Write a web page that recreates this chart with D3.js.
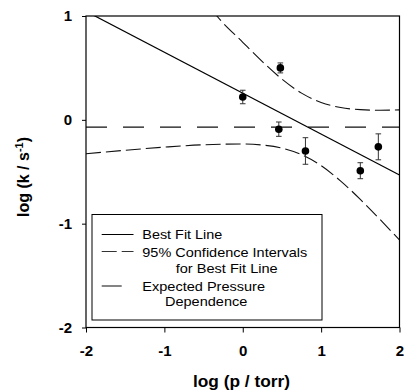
<!DOCTYPE html>
<html>
<head>
<meta charset="utf-8">
<script src="https://cdn.jsdelivr.net/npm/d3@7"></script>
<style>
  body { margin: 0; background: #fff; }
  svg { display: block; font-family: Arial, "Liberation Sans", sans-serif; }
</style>
</head>
<body>
<svg id="chart" width="404" height="392"></svg>
<script>
// measured points: log(p/torr), log(k/s^-1) and their error bars
const pointX = [0, 0.48, 0.46, 0.80, 1.50, 1.73];
const pointY = [0.22, 0.50, -0.09, -0.30, -0.49, -0.26];
const pointErr = [0.065, 0.048, 0.069, 0.128, 0.077, 0.125];

// best fit line end points
const fitX = [-2, 2];
const fitY = [1.045, -0.531];

// 95% confidence bands
const upperX = [-0.4, -0.33, 0, 0.25, 0.5, 0.75, 1.0, 1.25, 1.5, 1.75, 2];
const upperY = [1.067, 1.0, 0.747, 0.561, 0.392, 0.257, 0.167, 0.118, 0.098, 0.092, 0.096];
const lowerX = [-2, -1.5, -1, -0.5, 0, 0.25, 0.5, 0.75, 1.0, 1.25, 1.5, 1.75, 2];
const lowerY = [-0.327, -0.293, -0.263, -0.24, -0.233, -0.243, -0.272, -0.335, -0.441, -0.59, -0.766, -0.958, -1.158];

// expected pressure dependence (flat)
const expectedY = -0.07;

const xTicks = [-2, -1, 0, 1, 2];
const yTicks = [-2, -1, 0, 1];
const legendLabels = [["Best Fit Line"], ["95% Confidence Intervals", "for Best Fit Line"], ["Expected Pressure", "Dependence"]];

const margin = {top: 16, right: 4.5, bottom: 64.5, left: 86};
const width = 404 - margin.left - margin.right;
const height = 392 - margin.top - margin.bottom;

const svg = d3.select("#chart");
const g = svg.append("g").attr("transform", `translate(${margin.left},${margin.top})`);

const x = d3.scaleLinear().domain([-2, 2]).range([0, width]);
const y = d3.scaleLinear().domain([-2, 1]).range([height, 0]);

g.append("clipPath").attr("id", "clip")
  .append("rect").attr("width", width).attr("height", height);

const plot = g.append("g").attr("clip-path", "url(#clip)");

const line = d3.line().x(d => x(d[0])).y(d => y(d[1]));
const curve = d3.line().x(d => x(d[0])).y(d => y(d[1])).curve(d3.curveMonotoneX);

// expected pressure dependence
plot.append("path")
  .attr("d", line([[-2, expectedY], [2, expectedY]]))
  .attr("fill", "none").attr("stroke", "#111").attr("stroke-width", 1.1)
  .attr("stroke-dasharray", "21,16");

// confidence bands
[[upperX, upperY], [lowerX, lowerY]].forEach(([bx, by]) => {
  plot.append("path")
    .attr("d", curve(bx.map((v, i) => [v, by[i]])))
    .attr("fill", "none").attr("stroke", "#111").attr("stroke-width", 1.1)
    .attr("stroke-dasharray", "15,5");
});

// best fit
plot.append("path")
  .attr("d", line(fitX.map((v, i) => [v, fitY[i]])))
  .attr("fill", "none").attr("stroke", "#000").attr("stroke-width", 1.2);

// error bars + points
const pts = pointX.map((v, i) => ({x: v, y: pointY[i], e: pointErr[i]}));
const eb = g.append("g").attr("stroke", "#333").attr("stroke-width", 1);
pts.forEach(d => {
  eb.append("line").attr("x1", x(d.x)).attr("x2", x(d.x)).attr("y1", y(d.y + d.e)).attr("y2", y(d.y - d.e));
  [d.y + d.e, d.y - d.e].forEach(v => {
    eb.append("line").attr("x1", x(d.x) - 2.8).attr("x2", x(d.x) + 2.8).attr("y1", y(v)).attr("y2", y(v));
  });
});
g.selectAll("circle.pt").data(pts).enter().append("circle")
  .attr("class", "pt")
  .attr("cx", d => x(d.x)).attr("cy", d => y(d.y)).attr("r", 3.8)
  .attr("fill", "#000");

// frame
g.append("rect").attr("width", width).attr("height", height)
  .attr("fill", "none").attr("stroke", "#000").attr("stroke-width", 1.2);

// axes
const xAxis = g.append("g").attr("transform", `translate(0,${height})`)
  .call(d3.axisBottom(x).tickValues(xTicks).tickSize(5).tickPadding(13).tickFormat(d3.format("d")));
const yAxis = g.append("g")
  .call(d3.axisLeft(y).tickValues(yTicks).tickSize(4).tickPadding(10).tickFormat(d3.format("d")));
[xAxis, yAxis].forEach(a => {
  a.select(".domain").remove();
  a.selectAll("line").attr("stroke", "#000");
  a.selectAll("text").attr("fill", "#000").style("font-size", "15px").style("font-weight", "bold")
    .style("font-family", "Arial, 'Liberation Sans', sans-serif");
});
xAxis.selectAll("text").text(d => d < 0 ? "-" + Math.abs(d) : d);
yAxis.selectAll("text").text(d => d < 0 ? "-" + Math.abs(d) : d);

// axis titles
svg.append("text")
  .attr("x", 193).attr("y", 387)
  .attr("textLength", 97).attr("lengthAdjust", "spacingAndGlyphs")
  .style("font-size", "16px").style("font-weight", "bold")
  .text("log (p / torr)");

const yt = svg.append("text")
  .attr("transform", "translate(29,217) rotate(-90)")
  .style("font-size", "16px").style("font-weight", "bold");
yt.append("tspan").text("log (k / s");
yt.append("tspan").attr("dy", -6).style("font-size", "11px").text("-1");
yt.append("tspan").attr("dy", 6).text(")");

// legend
const lg = svg.append("g");
lg.append("rect").attr("x", 92).attr("y", 214.5).attr("width", 230).attr("height", 105.5)
  .attr("fill", "#fff").attr("stroke", "#000").attr("stroke-width", 1);

const sampleDash = [null, "15,5", "21,16"];
const sampleY = [234.5, 251.5, 286];
const sampleEnd = [133.5, 133.5, 121.7];
sampleY.forEach((sy, i) => {
  lg.append("line").attr("x1", 101.7).attr("x2", sampleEnd[i]).attr("y1", sy).attr("y2", sy)
    .attr("stroke", i === 0 ? "#000" : "#333").attr("stroke-width", 1.2)
    .attr("stroke-dasharray", sampleDash[i]);
});

const textRows = [
  {t: legendLabels[0][0], x: 142.3, y: 239, w: 80},
  {t: legendLabels[1][0], x: 142.3, y: 256.5, w: 165},
  {t: legendLabels[1][1], x: 175.7, y: 273, w: 102},
  {t: legendLabels[2][0], x: 142.3, y: 291, w: 122.7},
  {t: legendLabels[2][1], x: 165, y: 305.5, w: 82.3}
];
textRows.forEach(r => {
  lg.append("text").attr("x", r.x).attr("y", r.y)
    .attr("textLength", r.w).attr("lengthAdjust", "spacingAndGlyphs")
    .style("font-size", "13px").attr("fill", "#000").text(r.t);
});
</script>
</body>
</html>
